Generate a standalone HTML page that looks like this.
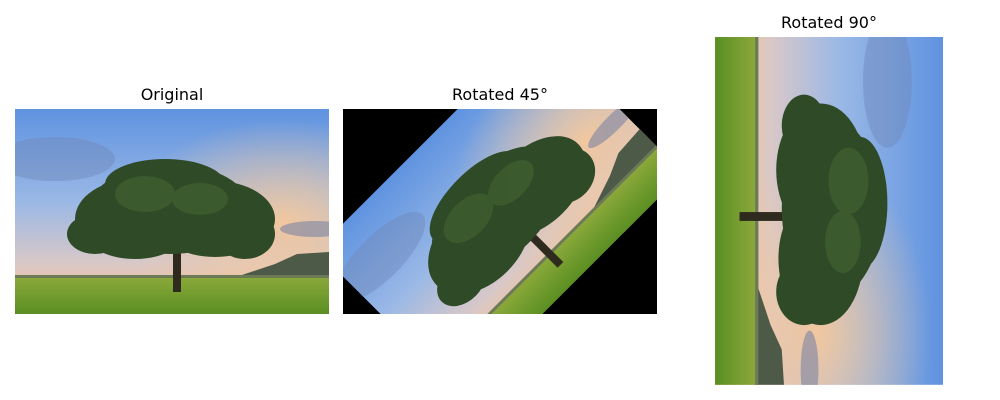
<!DOCTYPE html>
<html><head><meta charset="utf-8"><style>
body{margin:0;background:#fff;width:1000px;height:400px;overflow:hidden}
svg{display:block}
text{font-family:"DejaVu Sans","Liberation Sans",sans-serif;font-size:16px;fill:#000}
</style></head><body>
<svg width="1000" height="400" viewBox="0 0 1000 400">
<defs>
<linearGradient id="sky" x1="0" y1="0" x2="0" y2="1">
<stop offset="0" stop-color="#5f93e0"/><stop offset="0.45" stop-color="#9ab8e6"/>
<stop offset="0.75" stop-color="#d8c8c8"/><stop offset="0.9" stop-color="#f2c49c"/><stop offset="1" stop-color="#f4b890"/>
</linearGradient>
<radialGradient id="glow" cx="0.85" cy="0.55" r="0.5">
<stop offset="0" stop-color="#f8c898" stop-opacity="0.9"/><stop offset="1" stop-color="#f8c898" stop-opacity="0"/>
</radialGradient>
<linearGradient id="ground" x1="0" y1="0" x2="0" y2="1">
<stop offset="0" stop-color="#8aa83a"/><stop offset="1" stop-color="#5a8e22"/>
</linearGradient>
<clipPath id="sc"><rect x="0" y="0" width="314" height="205"/></clipPath>
<g id="scene"><g clip-path="url(#sc)">
<rect x="0" y="0" width="314" height="205" fill="url(#sky)"/>
<rect x="0" y="0" width="314" height="205" fill="url(#glow)"/>
<ellipse cx="40" cy="50" rx="60" ry="22" fill="#6e88b8" opacity="0.45"/>
<ellipse cx="300" cy="120" rx="35" ry="8" fill="#7b84a4" opacity="0.6"/>
<polygon points="215,170 260,155 282,145 314,143 314,170" fill="#4e5a48"/>
<rect x="0" y="166" width="314" height="4" fill="#6d7a58"/>
<rect x="0" y="169" width="314" height="36" fill="url(#ground)"/>
<rect x="158" y="140" width="8" height="43" fill="#2e2a1e"/>
<g fill="#2f4a26">
<ellipse cx="155" cy="100" rx="80" ry="45"/>
<ellipse cx="120" cy="110" rx="60" ry="40"/>
<ellipse cx="200" cy="110" rx="60" ry="38"/>
<ellipse cx="150" cy="75" rx="60" ry="25"/>
<ellipse cx="230" cy="125" rx="30" ry="25"/>
<ellipse cx="80" cy="125" rx="28" ry="20"/>
</g>
<g fill="#3e5e30" opacity="0.8">
<ellipse cx="130" cy="85" rx="30" ry="18"/><ellipse cx="185" cy="90" rx="28" ry="16"/>
</g>
</g></g>
<clipPath id="c2"><rect x="343" y="109" width="314" height="205"/></clipPath>
</defs>
<text x="172" y="100" text-anchor="middle">Original</text>
<use href="#scene" transform="translate(15,109)"/>
<text x="500" y="100" text-anchor="middle">Rotated 45°</text>
<g clip-path="url(#c2)">
<rect x="343" y="109" width="314" height="205" fill="#000"/>
<use href="#scene" transform="rotate(-45 500 211.5) translate(343,109)"/>
</g>
<text x="829" y="28" text-anchor="middle">Rotated 90°</text>
<use href="#scene" transform="translate(943,37) rotate(90) scale(1.108,1.112)"/>
</svg>
</body></html>
